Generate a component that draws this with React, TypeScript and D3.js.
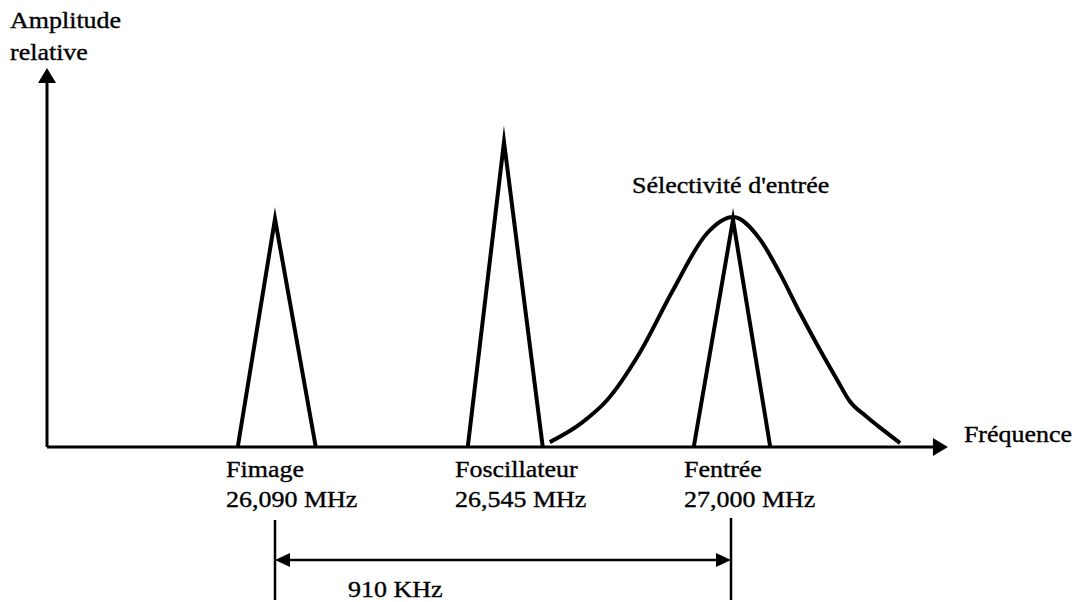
import React from "react";
import * as d3 from "d3";

// Frequencies in MHz, relative amplitude (oscillator peak = 1)
const peakNames = ["Fimage", "Foscillateur", "Fentrée"];
const peakFreqs = [26.09, 26.545, 27.0];
const peakLabels = ["26,090 MHz", "26,545 MHz", "27,000 MHz"];
const peakLeft = [26.016, 26.473, 26.922];
const peakRight = [26.171, 26.622, 27.074];
const peakAmps = [0.748, 1.0, 0.745];

const bellFreqs = [26.636, 26.7, 26.75, 26.815, 26.881, 26.948, 27.0, 27.054, 27.093, 27.133, 27.173, 27.207, 27.232, 27.265, 27.298, 27.332];
const bellAmps = [0.016, 0.08, 0.154, 0.31, 0.515, 0.7, 0.754, 0.68, 0.57, 0.44, 0.318, 0.22, 0.15, 0.1, 0.056, 0.013];

const axisMinF = 25.637;
const axisMaxF = 27.427;
const spanLabel = "910 KHz";
const xAxisTitle = "Fréquence";
const yAxisTitle = ["Amplitude", "relative"];
const bellTitle = "Sélectivité d'entrée";

const W = 1083;
const H = 602;
const FONT = "'Liberation Serif', 'Times New Roman', serif";
const FS = 23;
const SX = 1.13;

function T({ x, y, children }: { x: number; y: number; children: React.ReactNode }) {
  return (
    <text
      transform={`translate(${x},${y}) scale(${SX},1)`}
      fontFamily={FONT}
      fontSize={FS}
      fill="#000"
      stroke="#000"
      strokeWidth={0.35}
    >
      {children}
    </text>
  );
}

export default function App() {
  const x = d3.scaleLinear().domain([26.09, 27.0]).range([275, 733]);
  const y = d3.scaleLinear().domain([0, 1]).range([447, 142]);
  const x0 = x(axisMinF);
  const x1 = x(axisMaxF);
  const y0 = y(0);
  const yTop = 68;

  const line = d3
    .line<[number, number]>()
    .x((d) => x(d[0]))
    .y((d) => y(d[1]));
  const bellLine = d3
    .line<[number, number]>()
    .x((d) => x(d[0]))
    .y((d) => y(d[1]))
    .curve(d3.curveMonotoneX);

  const bellPts: [number, number][] = bellFreqs.map((f, i) => [f, bellAmps[i]]);

  const dimY = 560;
  const dA = x(peakFreqs[0]);
  const dB = x(peakFreqs[2]) - 2;

  return (
    <svg
      width={W}
      height={H}
      style={{ position: "absolute", left: 0, top: 0, background: "#fff" }}
    >
      <rect x={0} y={0} width={W} height={H} fill="#fff" />
      {/* Axes */}
      <line x1={x0} y1={y0} x2={x0} y2={yTop + 12} stroke="#000" strokeWidth={3} />
      <path d={`M${x0},${yTop} L${x0 - 9},${yTop + 15} L${x0 + 9},${yTop + 15} Z`} fill="#000" />
      <line x1={x0} y1={y0} x2={x1 - 12} y2={y0} stroke="#000" strokeWidth={3} />
      <path d={`M${x1},${y0} L${x1 - 15},${y0 - 9} L${x1 - 15},${y0 + 9} Z`} fill="#000" />

      {/* Bell */}
      <path d={bellLine(bellPts) || ""} fill="none" stroke="#000" strokeWidth={4} />

      {/* Peaks */}
      {peakFreqs.map((f, i) => (
        <path
          key={i}
          d={
            line([
              [peakLeft[i], 0],
              [f, peakAmps[i]],
              [peakRight[i], 0],
            ]) || ""
          }
          fill="none"
          stroke="#000"
          strokeWidth={4}
          strokeLinejoin="miter"
          strokeMiterlimit={20}
        />
      ))}

      {/* Texts */}
      <T x={10} y={28}>{yAxisTitle[0]}</T>
      <T x={10} y={60}>{yAxisTitle[1]}</T>
      <T x={x1 + 16} y={442}>{xAxisTitle}</T>
      <T x={632} y={193}>{bellTitle}</T>
      {peakFreqs.map((f, i) => (
        <g key={i}>
          <T x={x(f) - 49} y={477}>{peakNames[i]}</T>
          <T x={x(f) - 49} y={507}>{peakLabels[i]}</T>
        </g>
      ))}

      {/* Dimension */}
      <line x1={dA} y1={520} x2={dA} y2={600} stroke="#000" strokeWidth={2.5} />
      <line x1={dB} y1={518} x2={dB} y2={600} stroke="#000" strokeWidth={2.5} />
      <line x1={dA + 10} y1={dimY} x2={dB - 10} y2={dimY} stroke="#000" strokeWidth={2.5} />
      <path d={`M${dA},${dimY} L${dA + 15},${dimY - 7} L${dA + 15},${dimY + 7} Z`} fill="#000" />
      <path d={`M${dB},${dimY} L${dB - 15},${dimY - 7} L${dB - 15},${dimY + 7} Z`} fill="#000" />
      <T x={348} y={597}>{spanLabel}</T>
    </svg>
  );
}
